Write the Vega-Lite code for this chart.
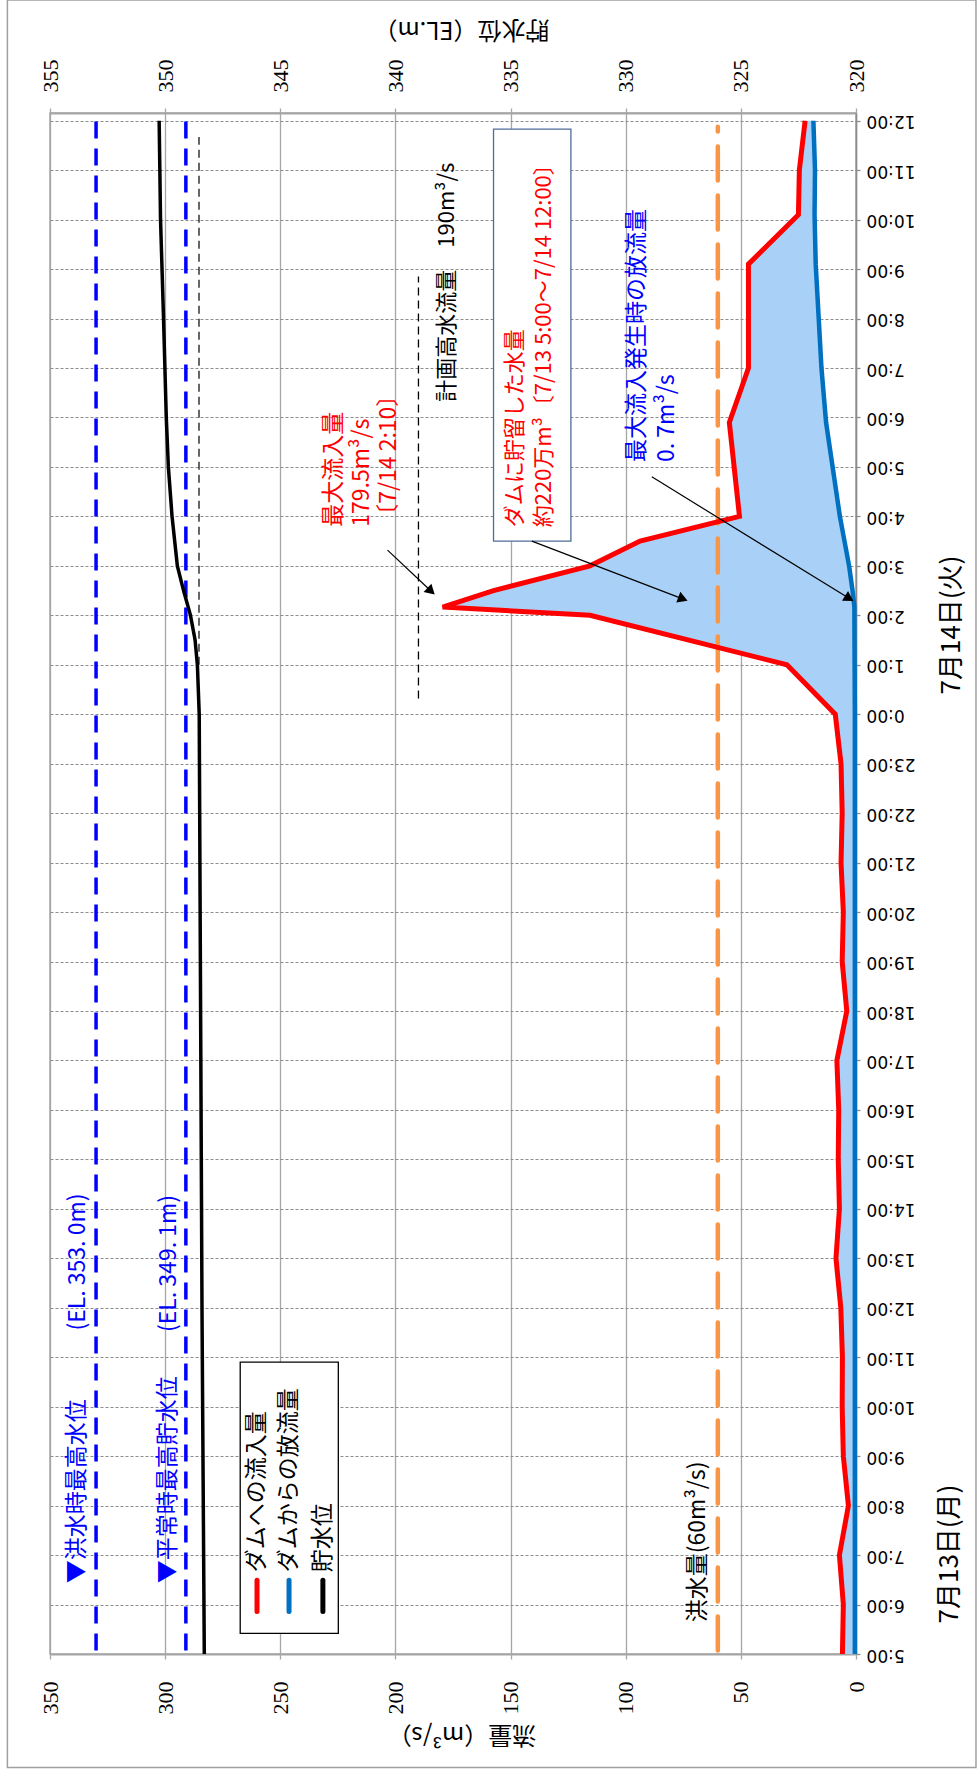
{
  "$schema": "https://vega.github.io/schema/vega-lite/v6.json",
  "width": 806,
  "height": 1541,
  "autosize": {"type": "none"},
  "padding": {"left": 50, "top": 113, "right": 122, "bottom": 121},
  "background": "white",
  "config": {
    "view": {"stroke": "#A6A6A6", "strokeWidth": 1.5},
    "font": "Noto Sans CJK JP"
  },
  "datasets": {
    "flow": [
      {"t": 5, "inflow": 5.9, "outflow": 0.5},
      {"t": 6, "inflow": 5.5, "outflow": 0.5},
      {"t": 7, "inflow": 7.2, "outflow": 0.5},
      {"t": 8, "inflow": 3.3, "outflow": 0.5},
      {"t": 9, "inflow": 5.5, "outflow": 0.5},
      {"t": 10, "inflow": 6, "outflow": 0.5},
      {"t": 11, "inflow": 5.9, "outflow": 0.5},
      {"t": 12, "inflow": 6.6, "outflow": 0.5},
      {"t": 13, "inflow": 8.7, "outflow": 0.5},
      {"t": 14, "inflow": 7.2, "outflow": 0.5},
      {"t": 15, "inflow": 7.7, "outflow": 0.5},
      {"t": 16, "inflow": 7.5, "outflow": 0.5},
      {"t": 17, "inflow": 8.3, "outflow": 0.5},
      {"t": 18, "inflow": 4, "outflow": 0.5},
      {"t": 19, "inflow": 6, "outflow": 0.5},
      {"t": 20, "inflow": 5.5, "outflow": 0.5},
      {"t": 21, "inflow": 6.5, "outflow": 0.5},
      {"t": 22, "inflow": 6, "outflow": 0.5},
      {"t": 23, "inflow": 6.5, "outflow": 0.5},
      {"t": 24, "inflow": 9, "outflow": 0.5},
      {"t": 25, "inflow": 30, "outflow": 0.6},
      {"t": 26, "inflow": 115.5, "outflow": 0.7},
      {"t": 26.1667, "inflow": 179.5, "outflow": 0.7},
      {"t": 26.5, "inflow": 157.4, "outflow": 1.5},
      {"t": 27, "inflow": 115.5, "outflow": 3},
      {"t": 27.5, "inflow": 93.75, "outflow": 5},
      {"t": 28, "inflow": 50.6, "outflow": 7},
      {"t": 29.9, "inflow": 55, "outflow": 13},
      {"t": 31, "inflow": 46.7, "outflow": 15},
      {"t": 33.1, "inflow": 46.7, "outflow": 17.5},
      {"t": 34.1, "inflow": 25, "outflow": 18},
      {"t": 35, "inflow": 24.6, "outflow": 17.8},
      {"t": 36, "inflow": 22.1, "outflow": 18.5}
    ],
    "storage": [
      {"t": 5, "level": 348.3},
      {"t": 12, "level": 348.4},
      {"t": 24, "level": 348.52},
      {"t": 25, "level": 348.6},
      {"t": 25.5, "level": 348.7},
      {"t": 26, "level": 348.9},
      {"t": 26.5, "level": 349.2},
      {"t": 27, "level": 349.47},
      {"t": 28, "level": 349.7},
      {"t": 29, "level": 349.86},
      {"t": 30, "level": 349.95},
      {"t": 32, "level": 350.07},
      {"t": 34, "level": 350.2},
      {"t": 36, "level": 350.26}
    ],
    "levelRefs": [
      {"level": 353.0, "t1": 5.07, "t2": 36.07},
      {"level": 349.1, "t1": 5.07, "t2": 36.07}
    ],
    "levelThin": [
      {"level": 348.53, "t1": 25, "t2": 35.67}
    ],
    "texts": [
      {"f": 338.2, "t": 6.43, "label": "▼洪水時最高水位", "color": "#0000FF", "size": 23},
      {"f": 337.9, "t": 11.54, "label": "(EL. 353. 0m)", "color": "#0000FF", "size": 23},
      {"f": 298.6, "t": 6.43, "label": "▼平常時最高貯水位", "color": "#0000FF", "size": 23},
      {"f": 298.5, "t": 11.51, "label": "(EL. 349. 1m)", "color": "#0000FF", "size": 23},
      {"f": 260.1, "t": 6.654, "label": "ダムへの流入量", "color": "#000000", "size": 23},
      {"f": 246.2, "t": 6.654, "label": "ダムからの放流量", "color": "#000000", "size": 23},
      {"f": 231.5, "t": 6.654, "label": "貯水位", "color": "#000000", "size": 23},
      {"f": 68.4, "t": 5.643, "label": "洪水量(60m³/s)", "color": "#000000", "size": 23},
      {"f": 177.6, "t": 30.32, "label": "計画高水流量　190m³/s", "color": "#000000", "size": 22},
      {"f": 148, "t": 27.78, "label": "ダムに貯留した水量", "color": "#FF0000", "size": 22},
      {"f": 135.4, "t": 27.78, "label": "約220万m³〔7/13 5:00～7/14 12:00〕", "color": "#FF0000", "size": 22},
      {"f": 226.8, "t": 27.79, "label": "最大流入量", "color": "#FF0000", "size": 23},
      {"f": 214.5, "t": 27.79, "label": "179.5m³/s", "color": "#FF0000", "size": 23},
      {"f": 202.6, "t": 27.79, "label": "〔7/14 2:10〕", "color": "#FF0000", "size": 23},
      {"f": 95.2, "t": 29.1, "label": "最大流入発生時の放流量", "color": "#0000FF", "size": 23},
      {"f": 82.2, "t": 29.1, "label": "0. 7m³/s", "color": "#0000FF", "size": 23},
      {"f": -41.7, "t": 24.4, "label": "7月14日(火)", "color": "#000000", "size": 26},
      {"f": -40.8, "t": 5.617, "label": "7月13日(月)", "color": "#000000", "size": 26}
    ],
    "legendSym": [
      {"f": 260.1, "t1": 5.86, "t2": 6.49, "color": "#FF0000"},
      {"f": 246.2, "t1": 5.86, "t2": 6.49, "color": "#0070C0"},
      {"f": 231.5, "t1": 5.86, "t2": 6.49, "color": "#000000"}
    ],
    "boxes": [
      {"f1": 267.4, "f2": 224.8, "t1": 5.415, "t2": 10.9, "stroke": "#000000", "fill": "#FFFFFF"},
      {"f1": 157.4, "f2": 123.8, "t1": 27.5, "t2": 35.83, "stroke": "#4F6D9A", "fill": "#FFFFFF"}
    ],
    "frame": [
      {"f1": 368.5, "f2": -52.1, "t1": 2.705, "t2": 38.44}
    ],
    "flowRefs": [
      {"f": 60, "t1": 5.07, "t2": 35.88}
    ],
    "planRef": [
      {"f": 190, "t1": 24.32, "t2": 32.85}
    ],
    "arrows": [
      {"f1": 203.43, "t1": 27.318, "f2": 185.03, "t2": 26.511, "ang": 133.3},
      {"f1": 140.76, "t1": 27.5, "f2": 75.82, "t2": 26.343, "ang": 110.9},
      {"f1": 88.67, "t1": 28.8, "f2": 3.56, "t2": 26.359, "ang": 122}
    ]
  },
  "layer": [
    {
      "layer": [
        {
          "data": {"name": "frame"},
          "mark": {"type": "rect", "fill": null, "fillOpacity": 0, "stroke": "#A0A0A0", "strokeWidth": 1.5},
          "encoding": {
            "x": {"field": "f1", "type": "quantitative"},
            "x2": {"field": "f2"},
            "y": {"field": "t1", "type": "quantitative"},
            "y2": {"field": "t2"}
          }
        },
        {
          "data": {"name": "flow"},
          "mark": {"type": "area", "orient": "horizontal", "color": "#A9D1F7"},
          "encoding": {
            "y": {"field": "t", "type": "quantitative"},
            "x": {"field": "inflow", "type": "quantitative"},
            "x2": {"field": "outflow"}
          }
        },
        {
          "data": {"name": "flowRefs"},
          "mark": {"type": "rule", "color": "#F79646", "strokeWidth": 4.5, "strokeDash": [34, 15], "strokeCap": "round"},
          "encoding": {
            "x": {"field": "f", "type": "quantitative"},
            "y": {"field": "t1", "type": "quantitative"},
            "y2": {"field": "t2"}
          }
        },
        {
          "data": {"name": "planRef"},
          "mark": {"type": "rule", "color": "#000000", "strokeWidth": 1.3, "strokeDash": [8, 5]},
          "encoding": {
            "x": {"field": "f", "type": "quantitative"},
            "y": {"field": "t1", "type": "quantitative"},
            "y2": {"field": "t2"}
          }
        },
        {
          "data": {"name": "flow"},
          "mark": {"type": "line", "color": "#0070C0", "strokeWidth": 4.5},
          "encoding": {
            "y": {"field": "t", "type": "quantitative"},
            "x": {"field": "outflow", "type": "quantitative"},
            "order": {"field": "t"}
          }
        },
        {
          "data": {"name": "flow"},
          "mark": {"type": "line", "color": "#FF0000", "strokeWidth": 5, "strokeJoin": "miter"},
          "encoding": {
            "y": {
              "field": "t",
              "type": "quantitative",
              "scale": {"domain": [5, 36.156], "nice": false, "zero": false},
              "axis": {
                "orient": "right",
                "values": [5,6,7,8,9,10,11,12,13,14,15,16,17,18,19,20,21,22,23,24,25,26,27,28,29,30,31,32,33,34,35,36],
                "labelExpr": "(datum.value % 24) + ':00'",
                "labelAngle": 180,
                "labelAlign": "right",
                "labelBaseline": "middle",
                "labelPadding": 6,
                "labelFont": "DejaVu Sans",
                "labelFontSize": 17,
                "labelColor": "#000000",
                "labelOverlap": false,
                "labelFlush": false,
                "tickSize": 4,
                "tickColor": "#8C8C8C",
                "tickWidth": 1.3,
                "domainColor": "#8C8C8C",
                "domainWidth": 1.5,
                "grid": true,
                "gridColor": "#8C8C8C",
                "gridDash": [3, 2],
                "gridWidth": 1,
                "title": null
              }
            },
            "x": {
              "field": "inflow",
              "type": "quantitative",
              "scale": {"domain": [0, 350], "reverse": true, "nice": false, "zero": false},
              "axis": {
                "orient": "bottom",
                "values": [0, 50, 100, 150, 200, 250, 300, 350],
                "grid": true,
                "gridColor": "#A6A6A6",
                "gridWidth": 1.3,
                "domainColor": "#A6A6A6",
                "domainWidth": 2,
                "tickColor": "#A6A6A6",
                "tickSize": 5,
                "tickWidth": 1.3,
                "labelAngle": -90,
                "labelAlign": "right",
                "labelBaseline": "middle",
                "labelPadding": 22,
                "labelFont": "Liberation Sans Narrow",
                "labelFontSize": 22,
                "labelColor": "#000000",
                "labelFlush": false,
                "labelOverlap": false,
                "title": "流量（m³/s）",
                "titleAngle": 180,
                "titleAlign": "center",
                "titleBaseline": "middle",
                "titleX": 411.5,
                "titleY": 79,
                "titleFont": "Noto Sans CJK JP",
                "titleFontSize": 24,
                "titleFontWeight": "normal",
                "titleColor": "#000000"
              }
            },
            "order": {"field": "t"}
          }
        },
        {
          "data": {"name": "boxes"},
          "mark": {"type": "rect", "strokeWidth": 1.3},
          "encoding": {
            "x": {"field": "f1", "type": "quantitative"},
            "x2": {"field": "f2"},
            "y": {"field": "t1", "type": "quantitative"},
            "y2": {"field": "t2"},
            "stroke": {"field": "stroke", "type": "nominal", "scale": null},
            "fill": {"field": "fill", "type": "nominal", "scale": null}
          }
        },
        {
          "data": {"name": "legendSym"},
          "mark": {"type": "rule", "strokeWidth": 5, "strokeCap": "round"},
          "encoding": {
            "x": {"field": "f", "type": "quantitative"},
            "y": {"field": "t1", "type": "quantitative"},
            "y2": {"field": "t2"},
            "color": {"field": "color", "type": "nominal", "scale": null}
          }
        },
        {
          "data": {"name": "arrows"},
          "mark": {"type": "rule", "color": "#000000", "strokeWidth": 1.2},
          "encoding": {
            "x": {"field": "f1", "type": "quantitative"},
            "x2": {"field": "f2"},
            "y": {"field": "t1", "type": "quantitative"},
            "y2": {"field": "t2"}
          }
        },
        {
          "data": {"name": "arrows"},
          "mark": {"type": "point", "shape": "triangle", "filled": true, "color": "#000000", "size": 130, "opacity": 1},
          "encoding": {
            "x": {"field": "f2", "type": "quantitative"},
            "y": {"field": "t2", "type": "quantitative"},
            "angle": {"field": "ang", "type": "quantitative", "scale": null}
          }
        },
        {
          "data": {"name": "texts"},
          "mark": {"type": "text", "angle": 270, "align": "left", "baseline": "middle", "font": "Noto Sans CJK JP"},
          "encoding": {
            "x": {"field": "f", "type": "quantitative"},
            "y": {"field": "t", "type": "quantitative"},
            "text": {"field": "label"},
            "color": {"field": "color", "type": "nominal", "scale": null},
            "size": {"field": "size", "type": "quantitative", "scale": null}
          }
        }
      ]
    },
    {
      "layer": [
        {
          "data": {"name": "levelRefs"},
          "mark": {"type": "rule", "color": "#0000FF", "strokeWidth": 3.5, "strokeDash": [17, 10]},
          "encoding": {
            "x": {"field": "level", "type": "quantitative"},
            "y": {"field": "t1", "type": "quantitative"},
            "y2": {"field": "t2"}
          }
        },
        {
          "data": {"name": "levelThin"},
          "mark": {"type": "rule", "color": "#000000", "strokeWidth": 1.2, "strokeDash": [8, 5]},
          "encoding": {
            "x": {"field": "level", "type": "quantitative"},
            "y": {"field": "t1", "type": "quantitative"},
            "y2": {"field": "t2"}
          }
        },
        {
          "data": {"name": "storage"},
          "mark": {"type": "line", "color": "#000000", "strokeWidth": 3.5},
          "encoding": {
            "y": {"field": "t", "type": "quantitative"},
            "x": {
              "field": "level",
              "type": "quantitative",
              "scale": {"domain": [320, 355], "reverse": true, "nice": false, "zero": false},
              "axis": {
                "orient": "top",
                "values": [320, 325, 330, 335, 340, 345, 350, 355],
                "grid": false,
                "domainColor": "#A6A6A6",
                "domainWidth": 2,
                "tickColor": "#A6A6A6",
                "tickSize": 5,
                "tickWidth": 1.3,
                "labelAngle": -90,
                "labelAlign": "left",
                "labelBaseline": "middle",
                "labelPadding": 16,
                "labelFont": "Liberation Sans Narrow",
                "labelFontSize": 22,
                "labelColor": "#000000",
                "labelFlush": false,
                "labelOverlap": false,
                "title": "貯水位（EL.m）",
                "titleAngle": 180,
                "titleAlign": "center",
                "titleBaseline": "middle",
                "titleX": 411,
                "titleY": -85,
                "titleFont": "Noto Sans CJK JP",
                "titleFontSize": 24,
                "titleFontWeight": "normal",
                "titleColor": "#000000"
              }
            },
            "order": {"field": "t"}
          }
        }
      ]
    }
  ],
  "resolve": {"scale": {"x": "independent"}, "axis": {"x": "independent"}}
}
